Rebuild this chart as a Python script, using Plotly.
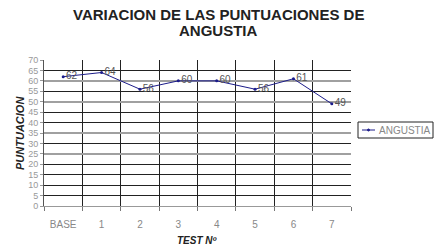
import plotly.graph_objects as go

categories = ["BASE", "1", "2", "3", "4", "5", "6", "7"]
angustia = [62, 64, 56, 60, 60, 56, 61, 49]
series_name = "ANGUSTIA"
title_lines = ["VARIACION DE LAS PUNTUACIONES DE", "ANGUSTIA"]
y_ticks = list(range(0, 75, 5))
gray_grid_ticks = [0, 25, 35, 50, 60]

FONT = "Liberation Sans, Arial"
LINE = "#1c1c8a"

# plot area in pixels: x 44..351, y 60..206
L, R, T, B = 44, 89, 60, 42
PW, PH = 440 - L - R, 248 - T - B


def px(x):
    return (x - L) / PW


def py(y):
    return (248 - B - y) / PH


fig = go.Figure()
# invisible carriers so that the grid-only axes are drawn
for ax in ["y", "y2"]:
    fig.add_trace(go.Scatter(
        x=categories, y=angustia, yaxis=ax, mode="lines",
        line=dict(width=0, color="rgba(0,0,0,0)"), opacity=0,
        hoverinfo="skip", showlegend=False,
    ))
fig.add_trace(go.Scatter(
    x=categories, y=angustia, name=series_name, yaxis="y3",
    mode="lines+markers+text",
    text=[str(v) for v in angustia],
    textposition="middle right",
    textfont=dict(family=FONT, size=10, color="#555555"),
    line=dict(color=LINE, width=1),
    marker=dict(size=3, color=LINE),
    showlegend=False,
))

shapes = [
    # legend box
    dict(type="rect", xref="paper", yref="paper",
         x0=px(358), x1=px(433), y0=py(138), y1=py(122),
         line=dict(color="#222222", width=1), fillcolor="white"),
    dict(type="line", xref="paper", yref="paper",
         x0=px(362), x1=px(375), y0=py(130), y1=py(130),
         line=dict(color=LINE, width=1)),
    dict(type="circle", xref="paper", yref="paper",
         x0=px(367.5), x1=px(369.5), y0=py(131), y1=py(129),
         line=dict(color=LINE, width=1), fillcolor=LINE),
]

annotations = [
    dict(text=f"<b>{title_lines[0]}</b>",
         xref="paper", yref="paper", x=px(218), y=py(14), xanchor="center", yanchor="middle",
         showarrow=False, font=dict(family=FONT, size=15, color="#222222")),
    dict(text=f"<b>{title_lines[1]}</b>",
         xref="paper", yref="paper", x=px(218), y=py(30), xanchor="center", yanchor="middle",
         showarrow=False, font=dict(family=FONT, size=15, color="#222222")),
    dict(text="<b><i>TEST Nº</i></b>",
         xref="paper", yref="paper", x=px(197), y=py(240), xanchor="center", yanchor="middle",
         showarrow=False, font=dict(family=FONT, size=10, color="#222222")),
    dict(text="<b><i>PUNTUACION</i></b>", textangle=-90,
         xref="paper", yref="paper", x=px(20), y=py(133), xanchor="center", yanchor="middle",
         showarrow=False, font=dict(family=FONT, size=11, color="#222222")),
    dict(text=series_name, xref="paper", yref="paper", x=px(377), y=py(130),
         xanchor="left", yanchor="middle", showarrow=False,
         font=dict(family=FONT, size=10, color="#888888")),
]

fig.update_layout(
    width=440, height=248,
    margin=dict(l=L, r=R, t=T, b=B, autoexpand=False),
    paper_bgcolor="white", plot_bgcolor="white",
    showlegend=False,
    font=dict(family=FONT, size=10, color="#777777"),
    shapes=shapes,
    annotations=annotations,
    xaxis=dict(
        type="category", tickson="boundaries", automargin=False, tickangle=0,
        showgrid=True, gridcolor="#222222", gridwidth=1,
        ticks="outside", ticklen=4, tickcolor="#777777",
        showline=True, linecolor="#999999", linewidth=1,
        tickfont=dict(family=FONT, size=10, color="#888888"),
        ticklabelstandoff=9,
        range=[-0.5, 7.5],
    ),
    yaxis=dict(
        range=[0, 70], tickvals=y_ticks, automargin=False,
        showgrid=True, gridcolor="#222222", gridwidth=1,
        ticks="outside", ticklen=3, tickcolor="#999999",
        showline=True, linecolor="#555555", linewidth=1,
        zeroline=False,
        tickfont=dict(family=FONT, size=9, color="#999999"),
    ),
    yaxis2=dict(
        overlaying="y", range=[0, 70], tickvals=gray_grid_ticks, automargin=False,
        showgrid=True, gridcolor="#a0a0a0", gridwidth=2,
        showticklabels=False, ticks="", zeroline=False, showline=False,
    ),
    yaxis3=dict(
        overlaying="y", range=[0, 70], automargin=False,
        showgrid=False, showticklabels=False, ticks="", zeroline=False, showline=False,
    ),
)

fig.write_html("out.html")
